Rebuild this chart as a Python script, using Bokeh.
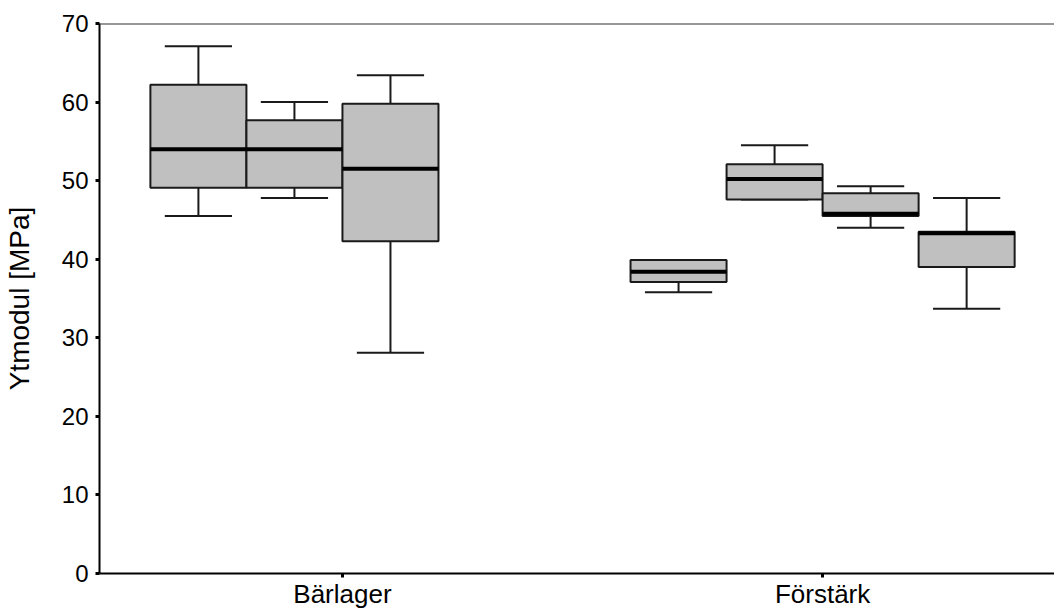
from bokeh.plotting import figure
from bokeh.models import Range1d, FixedTicker, Span, ColumnDataSource
from bokeh.embed import file_html
from bokeh.resources import INLINE

# ---- data ----
groups = ["Bärlager", "Förstärk"]
series_offsets = [-0.3, -0.1, 0.1, 0.3]

box_group = [0, 0, 0, 1, 1, 1, 1]
box_series = [0, 1, 2, 0, 1, 2, 3]
whisker_low = [45.5, 47.8, 28.1, 35.8, 47.6, 44.0, 33.7]
q1 = [49.1, 49.1, 42.3, 37.1, 47.6, 45.5, 39.0]
median = [54.0, 54.0, 51.5, 38.4, 50.2, 45.8, 43.3]
q3 = [62.2, 57.7, 59.8, 39.9, 52.1, 48.4, 43.5]
whisker_high = [67.1, 60.0, 63.4, 39.9, 54.5, 49.3, 47.8]

y_ticks = [0, 10, 20, 30, 40, 50, 60, 70]

BOX_W = 0.2
CAP_W = 0.14
FONT = "Liberation Sans"
X_START, X_END = 0.494, 2.483

x = [g + 1 + series_offsets[s] for g, s in zip(box_group, box_series)]
src = ColumnDataSource(dict(
    x=x,
    x0=[v - BOX_W / 2 for v in x],
    x1=[v + BOX_W / 2 for v in x],
    cx0=[v - CAP_W / 2 for v in x],
    cx1=[v + CAP_W / 2 for v in x],
    low=whisker_low, q1=q1, med=median, q3=q3, high=whisker_high,
))

p = figure(frame_width=955, frame_height=550, output_backend="svg", toolbar_location=None,
           x_range=Range1d(X_START, X_END), y_range=Range1d(y_ticks[0], y_ticks[-1]),
           min_border_left=99, min_border_right=0, min_border_top=23,
           min_border_bottom=0)
p.outline_line_color = None
p.grid.visible = False
p.background_fill_color = "white"

line_col = "#1a1a1a"
# whisker stems
p.segment(x0="x", y0="q3", x1="x", y1="high", source=src, line_color=line_col, line_width=2)
p.segment(x0="x", y0="q1", x1="x", y1="low", source=src, line_color=line_col, line_width=2)
# caps
p.segment(x0="cx0", y0="high", x1="cx1", y1="high", source=src, line_color=line_col, line_width=2)
p.segment(x0="cx0", y0="low", x1="cx1", y1="low", source=src, line_color=line_col, line_width=2)
# boxes
p.vbar(x="x", width=BOX_W, bottom="q1", top="q3", source=src,
       fill_color="#c0c0c0", line_color=line_col, line_width=2)
# medians
p.segment(x0="x0", y0="med", x1="x1", y1="med", source=src, line_color="black", line_width=4)

# top border line
p.add_layout(Span(location=y_ticks[-1], dimension="width", line_color="#333333", line_width=2))

# axes
p.xaxis.ticker = FixedTicker(ticks=[1, 2])
p.xaxis.major_label_overrides = {1: groups[0], 2: groups[1]}
p.yaxis.ticker = FixedTicker(ticks=y_ticks)

for ax in (p.xaxis[0], p.yaxis[0]):
    ax.axis_line_color = "black"
    ax.axis_line_width = 2
    ax.major_tick_in = 0
    ax.major_tick_out = 4
    ax.major_tick_line_width = 3
    ax.major_tick_line_color = "black"
    ax.minor_tick_line_color = None
    ax.major_label_text_font = FONT
    ax.major_label_text_color = "black"

p.yaxis.major_label_text_font_size = "24px"
p.yaxis.major_label_standoff = 7
p.xaxis.major_label_text_font_size = "26px"
p.xaxis.major_label_standoff = 1

p.yaxis.axis_label = "Ytmodul [MPa]"
p.yaxis.axis_label_text_font = FONT
p.yaxis.axis_label_text_font_size = "28px"
p.yaxis.axis_label_text_font_style = "normal"
p.yaxis.axis_label_text_color = "black"
p.yaxis.axis_label_standoff = 24

open("out.html", "w").write(file_html(p, INLINE))
